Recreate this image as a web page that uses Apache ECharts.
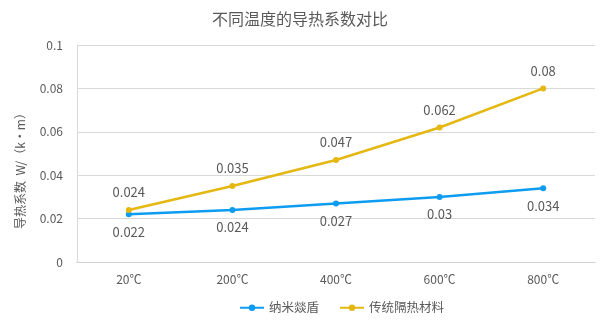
<!DOCTYPE html>
<html><head><meta charset="utf-8">
<script src="https://cdn.jsdelivr.net/npm/echarts@6/dist/echarts.min.js"></script>
<style>html,body{margin:0;padding:0;background:#fff}#c{width:600px;height:325px}</style>
</head><body><div id="c"></div>
<script>
const categories = ['20℃','200℃','400℃','600℃','800℃'];
const nanoValues = [0.022,0.024,0.027,0.03,0.034];
const traditionalValues = [0.024,0.035,0.047,0.062,0.08];
const seriesNames = ['纳米燚盾','传统隔热材料'];
const titleText = '不同温度的导热系数对比';
const yAxisName = '导热系数  W/（k·m）';

const font = '"Noto Sans CJK SC", "Noto Sans", sans-serif';
const chart = echarts.init(document.getElementById('c'), null, {renderer:'canvas'});
chart.setOption({
  animation:false,
  textStyle:{fontFamily:font},
  title:{text:titleText,left:'center',top:6,textStyle:{fontSize:16,fontWeight:'normal',color:'#595959',fontFamily:font}},
  legend:{bottom:6,left:234,itemWidth:24,itemHeight:8,itemGap:20,textStyle:{fontSize:12.5,color:'#595959',fontFamily:font},data:seriesNames},
  grid:{left:77,right:5,top:45,bottom:63},
  xAxis:{type:'category',data:categories,boundaryGap:true,
    axisLine:{lineStyle:{color:'#d0d0d0'}},axisTick:{show:false},
    axisLabel:{color:'#595959',fontSize:12,margin:11}},
  yAxis:{type:'value',min:0,max:0.1,interval:0.02,
    axisLine:{show:true,lineStyle:{color:'#d9d9d9'}},
    splitLine:{lineStyle:{color:'#d9d9d9'}},
    axisLabel:{color:'#595959',fontSize:12,margin:14}},
  graphic:[{type:'text',x:20,y:168,rotation:Math.PI/2,
    style:{text:yAxisName,fill:'#595959',font:'12px '+font,textAlign:'center',textVerticalAlign:'middle'}}],
  series:[
    {name:seriesNames[0],type:'line',data:nanoValues,color:'#0d9cf0',symbol:'circle',symbolSize:6,
      lineStyle:{width:2.5},label:{show:true,position:'bottom',distance:8,color:'#595959',fontSize:13}},
    {name:seriesNames[1],type:'line',data:traditionalValues,color:'#e5b711',symbol:'circle',symbolSize:6,
      lineStyle:{width:2.5},label:{show:true,position:'top',distance:8,color:'#595959',fontSize:13}}
  ]
});
</script></body></html>
